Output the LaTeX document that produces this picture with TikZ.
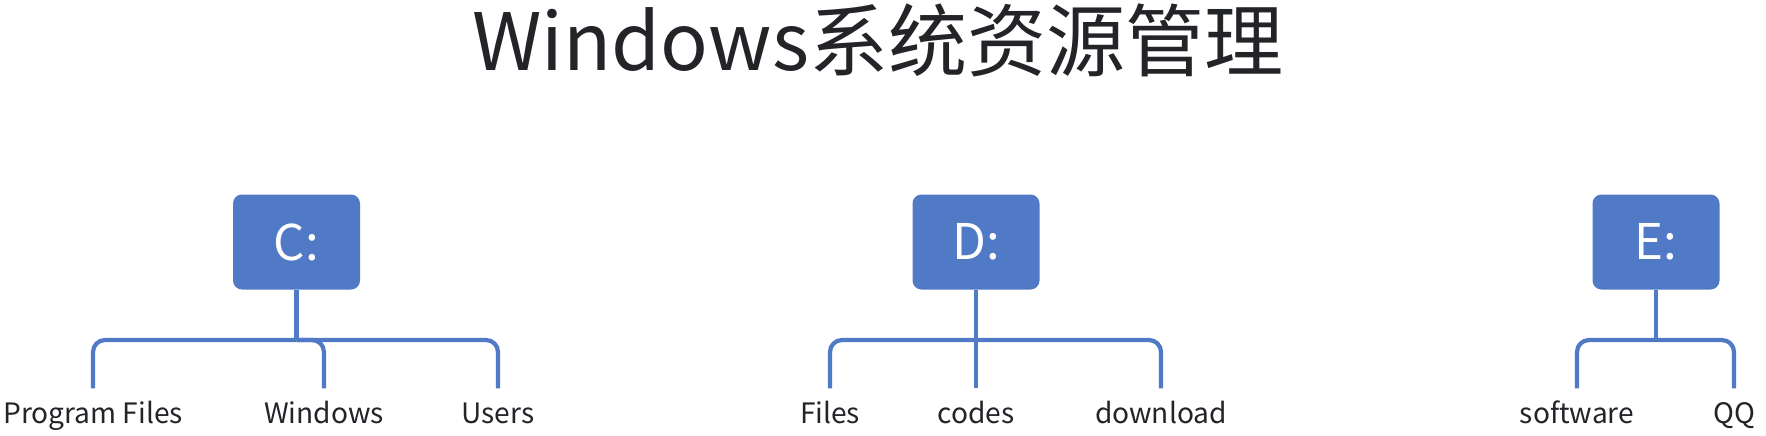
\documentclass[tikz,border=0pt]{standalone}
\usepackage{fontspec}
\setmainfont{Noto Sans CJK SC}
\usepackage{xcolor}
\usepackage{tikz}
\definecolor{drvblue}{RGB}{80,121,198}
\definecolor{txtgray}{RGB}{34,36,40}

\begin{document}
\begin{tikzpicture}[
  drive/.style={fill=drvblue, rounded corners=0.09cm, minimum width=1.27cm,
    minimum height=0.95cm, text=white, font=\fontsize{14}{15}\selectfont},
  folder/.style={anchor=base, inner xsep=0pt, inner ysep=0.15cm,
    text height=0.19cm, text depth=0.055cm, text=txtgray,
    font=\fontsize{8}{9}\selectfont},
  link/.style={drvblue, line width=1.2pt, rounded corners=0.12cm}
  ]
  \useasboundingbox (0,0) rectangle (17.66,-4.35);
  \node[anchor=base, text=txtgray, font=\fontsize{22.5}{24}\selectfont]
    (title) at (8.78,-0.70) {Windows系统资源管理};

  \node[drive] (c) at (2.965,-2.42) {C:};
  \node[drive] (d) at (9.76,-2.42) {D:};
  \node[drive] (e) at (16.56,-2.42) {E:};

  \coordinate (cj) at (2.965,-3.40);
  \coordinate (dj) at (9.76,-3.40);
  \coordinate (ej) at (16.56,-3.40);

  \node[folder] (progfiles) at (0.93,-4.23) {Program Files};
  \node[folder] (windows) at (3.24,-4.23) {Windows};
  \node[folder] (users) at (4.98,-4.23) {Users};
  \node[folder] (files) at (8.30,-4.23) {Files};
  \node[folder] (codes) at (9.76,-4.23) {codes};
  \node[folder] (download) at (11.61,-4.23) {download};
  \node[folder] (software) at (15.77,-4.23) {software};
  \node[folder] (qq) at (17.34,-4.23) {QQ};

  \draw[link] (c) -- (cj);
  \draw[link] (cj) -| (progfiles);
  \draw[link] (cj) -| (windows);
  \draw[link] (cj) -| (users);
  \draw[link] (d) -- (dj);
  \draw[link] (dj) -| (files);
  \draw[link] (dj) -- (codes);
  \draw[link] (dj) -| (download);
  \draw[link] (e) -- (ej);
  \draw[link] (ej) -| (software);
  \draw[link] (ej) -| (qq);
\end{tikzpicture}
\end{document}
